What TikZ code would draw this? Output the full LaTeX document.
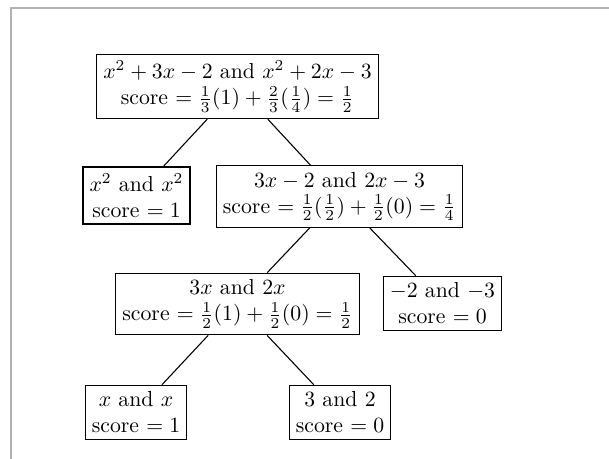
\documentclass[tikz,border=0pt]{standalone}
\begin{document}
\begin{tikzpicture}[x=0.46pt,y=-0.46pt,
  tn/.style={draw,align=center,inner sep=3pt,line width=0.5pt},
  conn/.style={line width=0.5pt}]
\useasboundingbox (0,0) rectangle (609,459);
\draw[gray!60,line width=0.8pt] (11,459) -- (11,8) -- (609,8);
\node[tn] (r) at (237.5,86.5) {$x^2+3x-2$ and $x^2+2x-3$\\score $=\frac13(1)+\frac23(\frac14)=\frac12$};
\node[tn] (a) at (136.5,195.5) {$x^2$ and $x^2$\\score $=1$};
\node[tn] (b) at (339.5,196.5) {$3x-2$ and $2x-3$\\score $=\frac12(\frac12)+\frac12(0)=\frac14$};
\node[tn] (c) at (237.5,304) {$3x$ and $2x$\\score $=\frac12(1)+\frac12(0)=\frac12$};
\node[tn] (d) at (442.5,303.5) {$-2$ and $-3$\\score $=0$};
\node[tn] (e) at (136,412.5) {$x$ and $x$\\score $=1$};
\node[tn] (f) at (340,412.5) {$3$ and $2$\\score $=0$};
\draw[conn] (r) -- (a);
\draw[conn] (r) -- (b);
\draw[conn] (b) -- (c);
\draw[conn] (b) -- (d);
\draw[conn] (c) -- (e);
\draw[conn] (c) -- (f);
\end{tikzpicture}
\end{document}
